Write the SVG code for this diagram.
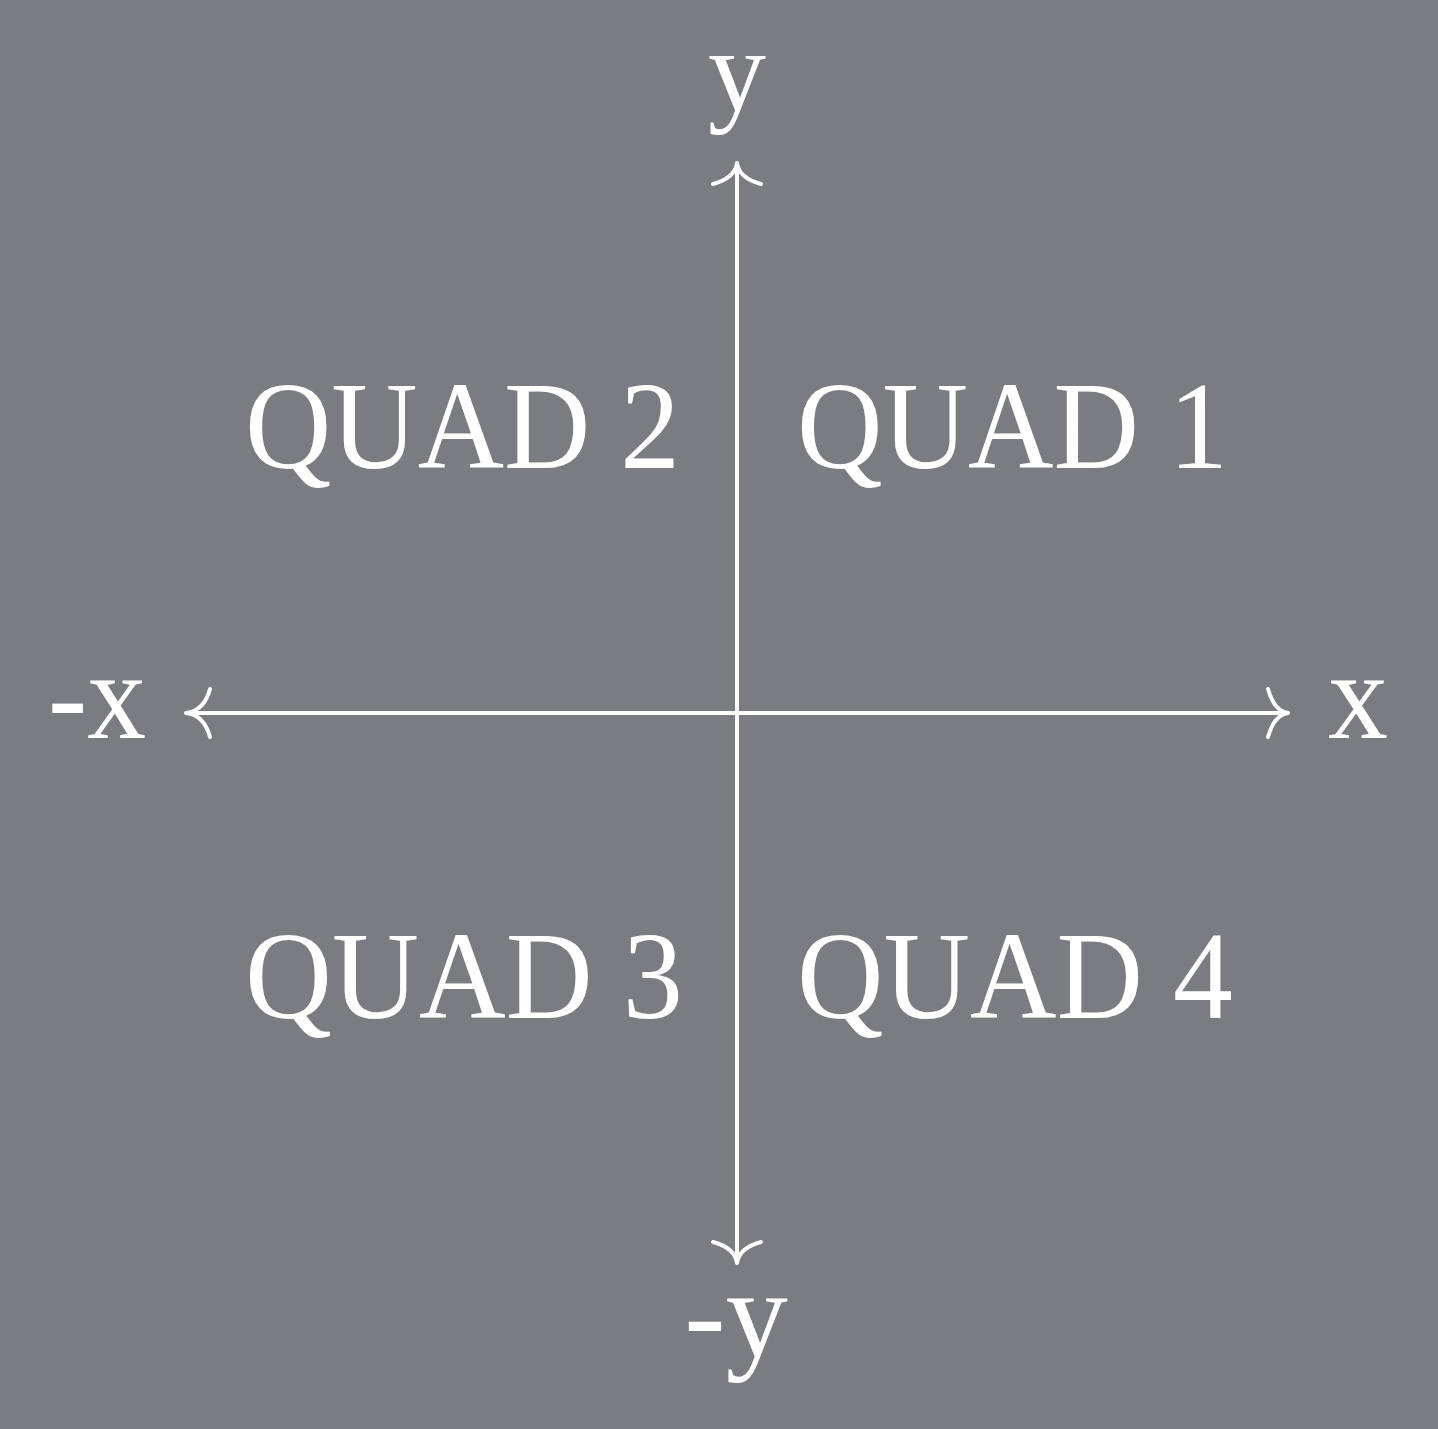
<svg xmlns="http://www.w3.org/2000/svg" width="1438" height="1429" viewBox="0 0 1438 1429">
<style>
.ax{fill:none;stroke:#fff;stroke-width:4;stroke-linecap:round;stroke-linejoin:round}
.t{fill:#fff;font-family:"Liberation Serif","Times New Roman",serif;font-size:124px}
</style>
<rect width="1438" height="1429" fill="#7a7c81"/>
<g id="connectors">
<path class="ax" d="M737,1262 V164"/>
<path class="ax" d="M187,713 H1287"/>
<path class="ax" d="M713,184 Q735,178 737,163 Q739,178 761,184"/>
<path class="ax" d="M713,1242 Q735,1248 737,1263 Q739,1248 761,1242"/>
<path class="ax" d="M210,689 Q204,711 186,713 Q204,715 210,737"/>
<path class="ax" d="M1268,689 Q1274,711 1288,713 Q1274,715 1268,737"/>
</g>
<g id="label-y"><text class="t" x="737" y="110" text-anchor="middle" style="font-size:116px">y</text></g>
<g id="label-neg-y"><text class="t" x="736" y="1356" text-anchor="middle">-y</text></g>
<g id="label-neg-x"><text class="t" x="48" y="738" textLength="98" lengthAdjust="spacingAndGlyphs">-x</text></g>
<g id="label-x"><text class="t" x="1328" y="738" textLength="60" lengthAdjust="spacingAndGlyphs">x</text></g>
<g id="quad2"><text class="t" x="245" y="468" textLength="435" lengthAdjust="spacingAndGlyphs">QUAD 2</text></g>
<g id="quad1"><text class="t" x="797" y="468" textLength="431" lengthAdjust="spacingAndGlyphs">QUAD 1</text></g>
<g id="quad3"><text class="t" x="245" y="1018" textLength="438" lengthAdjust="spacingAndGlyphs">QUAD 3</text></g>
<g id="quad4"><text class="t" x="797" y="1018" textLength="436" lengthAdjust="spacingAndGlyphs">QUAD 4</text></g>
</svg>
